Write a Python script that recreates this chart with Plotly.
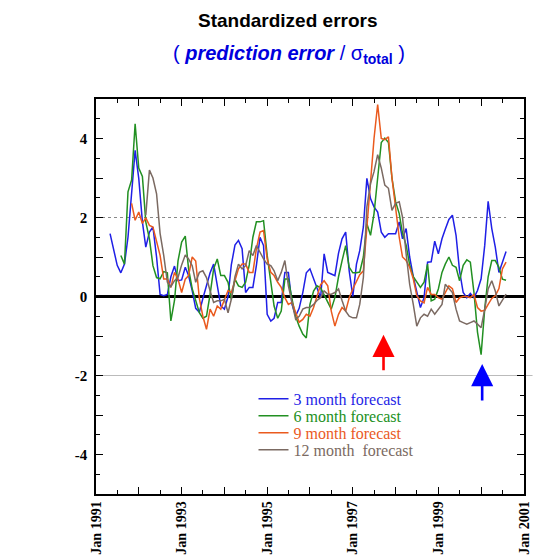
import pandas as pd
import plotly.graph_objects as go

# ---- data (monthly standardized errors) ----
start_3m = "1991-05-01"
err_3m = [1.59, 1.2, 0.79, 0.6, 0.82, 1.5, 2.6, 3.7, 2.99, 1.89,
          1.25, 1.63, 1.76, 1.0, 0.05, 0.02, 0.05, 0.5, 0.77, 0.4,
          0.42, 0.74, 0.53, 0.15, -0.3, -0.4, -0.05, 0.28, 0.6, 0.82,
          0.3, -0.24, -0.32, 0.0, 0.8, 1.3, 1.42, 1.21, 0.1, 0.23,
          0.23, 0.79, 1.5, 1.29, -0.45, -0.62, -0.55, -0.15, -0.15, 0.61,
          0.61, -0.2, -0.49, -0.3, 0.1, 0.6, 0.7, 0.45, 0.27, -0.03,
          1.08, 0.61, 0.57, 0.53, 1.1, 1.46, 1.63, 0.65, 0.0, 0.82,
          1.16, 1.76, 2.99, 2.48, 2.27, 2.14, 1.63, 1.5, 1.59, 1.59,
          1.59, 1.89, 1.46, 1.72, 1.0, 0.5, 0.1, -0.28, -0.03, 0.87,
          0.88, 1.4, 1.08, 1.46, 1.7, 1.95, 2.06, 1.55, 0.65, 0.1,
          -0.03, 0.08, -0.03, 0.15, 0.45, 1.3, 2.41, 1.72, 1.25, 0.61,
          0.87, 1.14]

start_6m = "1991-08-01"
err_6m = [1.04, 0.82, 2.65, 2.95, 4.37, 3.25, 3.04, 1.89, 1.46, 0.78,
          0.48, 0.45, 0.63, 0.6, -0.62, -0.1, 0.9, 1.38, 1.53, 0.7,
          0.2, -0.1, -0.41, -0.55, -0.5, 0.06, 0.7, 0.95, 0.53, 0.53,
          0.36, -0.07, 0.44, 0.27, 0.23, 0.36, 0.8, 1.5, 1.89, 1.89,
          1.92, 1.04, 0.3, -0.24, -0.55, -0.37, 0.44, 0.44, -0.07, -0.5,
          -0.75, -0.95, -1.05, -0.2, 0.14, 0.27, 0.22, 0.05, -0.11, -0.32,
          -0.03, 0.5, 0.9, 1.29, 0.74, 0.6, 0.6, 0.62, 1.0, 1.84,
          1.55, 2.1, 3.0, 3.9, 4.01, 3.9, 3.0, 2.4, 2.1, 1.6,
          1.3, 0.8, 0.5, 0.35, 0.23, 0.36, 0.82, -0.11, -0.07, 0.19,
          0.61, 0.82, 1.0, 0.79, 0.74, 0.4, 0.79, 0.93, 0.87, 0.1,
          -0.9, -1.47, -0.3, 0.5, 0.91, 0.91, 0.74, 0.44, 0.41]

start_9m = "1991-11-01"
err_9m = [2.36, 1.93, 2.14, 1.85, 1.99, 1.8, 1.76, 1.42, 1.04, 0.44,
          0.44, 0.23, 0.61, 0.44, 0.1, 0.44, 0.53, 1.0, 0.9, -0.05,
          -0.5, -0.83, -0.32, -0.5, -0.24, -0.32, -0.07, 0.15, 0.1, 0.4,
          0.7, 0.82, 0.82, 0.61, 0.61, 1.21, 1.63, 1.67, 0.95, 0.61,
          0.53, 0.36, 0.23, -0.03, -0.2, -0.15, -0.41, -0.65, -0.58, -0.45,
          -0.5, -0.28, 0.0, 0.3, 0.4, 0.27, -0.37, -0.75, -0.45, -0.28,
          -0.37, -0.03, 0.19, 0.4, 0.55, 0.65, 1.8, 3.0, 4.0, 4.86,
          4.0, 3.97, 4.04, 3.0, 2.2, 1.5, 1.0, 0.91, 0.74, 0.45,
          0.02, -0.11, -0.16, 0.23, 0.05, 0.05, -0.03, -0.07, 0.1, 0.27,
          0.2, -0.15, -0.03, 0.0, 0.0, -0.03, 0.05, -0.28, -0.37, -0.35,
          -0.2, -0.05, 0.02, 0.2, 0.7, 0.87]

start_12m = "1992-03-01"
err_12m = [2.06, 3.2, 3.0, 2.6, 1.6, 1.04, 0.36, 0.25, 0.4, 0.48,
           0.8, 1.05, 0.95, 0.78, 0.36, 0.61, 0.65, 0.48, 0.14, -0.15,
           -0.11, -0.11, -0.07, -0.41, -0.07, 0.5, 0.82, 0.7, 0.78, 1.16,
           1.04, 1.29, 1.12, 0.95, 0.82, 0.78, 0.65, 0.4, 0.61, 0.91,
           0.27, -0.2, -0.58, -0.5, -0.32, -0.28, -0.28, -0.2, -0.1, -0.03,
           0.14, 0.06, 0.06, 0.1, 0.19, -0.1, -0.37, -0.5, -0.54, -0.54,
           -0.2, 0.48, 2.27, 2.86, 3.16, 3.59, 3.25, 2.82, 2.74, 2.18,
           2.36, 2.4, 2.01, 1.08, 0.31, -0.2, -0.75, -0.54, -0.45, -0.5,
           -0.32, -0.45, -0.32, -0.2, 0.31, 0.2, 0.1, -0.32, -0.62, -0.66,
           -0.7, -0.66, -0.62, -0.7, -0.79, -0.32, 0.19, 0.4, 0.14, -0.24,
           -0.1, 0.06]

series_names = ["3 month forecast", "6 month forecast", "9 month forecast", "12 month  forecast"]
series_colors = ["#1f1fe6", "#229022", "#ea5a1e", "#7b6a62"]
series_starts = [start_3m, start_6m, start_9m, start_12m]
series_values = [err_3m, err_6m, err_9m, err_12m]

year_ticks = [f"{y}-01-01" for y in range(1991, 2002)]
year_labels = [f"Jan {y}" if (y - 1991) % 2 == 0 else "" for y in range(1991, 2002)]
y_ticks = [-4, -3, -2, -1, 0, 1, 2, 3, 4]
y_labels = ["-4", "", "-2", "", "0", "", "2", "", "4"]

red_arrow = ("1997-09-20", -0.97)
blue_arrow = ("2000-01-10", -1.71)

legend_rows_y = [0.241, 0.198, 0.155, 0.112]
legend_ids = ["legend", "legend2", "legend3", "legend4"]

fig = go.Figure()
for name, color, start, vals, lid in zip(series_names, series_colors, series_starts,
                                         series_values, legend_ids):
    dates = pd.date_range(start, periods=len(vals), freq="MS")
    fig.add_trace(go.Scatter(
        x=dates, y=vals, mode="lines",
        line=dict(color=color, width=1.5),
        name=f'<span style="color:{color}">{name}</span>',
        legend=lid,
    ))

# reference lines at +/-2
fig.add_shape(type="line", xref="x", yref="y", x0="1991-01-01", x1="2000-08-01", y0=2, y1=2,
              line=dict(color="#888888", width=1, dash="dot"), layer="below")
fig.add_shape(type="line", xref="paper", yref="y", x0=0, x1=1.02, y0=-2, y1=-2,
              line=dict(color="#bbbbbb", width=1), layer="below")

# arrows
fig.add_annotation(x=red_arrow[0], y=red_arrow[1], xref="x", yref="y", ax=0, ay=37,
                   showarrow=True, arrowhead=2, arrowsize=1.7, arrowwidth=2.6,
                   arrowcolor="#ff0000", text="")
fig.add_annotation(x=blue_arrow[0], y=blue_arrow[1], xref="x", yref="y", ax=0, ay=38,
                   showarrow=True, arrowhead=2, arrowsize=1.7, arrowwidth=2.6,
                   arrowcolor="#0000ff", text="")

# titles
fig.add_annotation(x=0.448, y=1.198, xref="paper", yref="paper", showarrow=False,
                   xanchor="center", yanchor="middle",
                   text="<b>Standardized errors</b>",
                   font=dict(family="Liberation Sans, Arial", size=19, color="black"))
fig.add_annotation(x=0.452, y=1.112, xref="paper", yref="paper", showarrow=False,
                   xanchor="center", yanchor="middle",
                   text="( <b><i>prediction error</i></b> / σ<sub><b>total</b></sub> )",
                   font=dict(family="Liberation Sans, Arial", size=20, color="#0000dd"))

legend_common = dict(xanchor="left", yanchor="middle", bgcolor="rgba(0,0,0,0)", borderwidth=0,
                     font=dict(family="Liberation Serif, Times New Roman", size=16),
                     itemwidth=30)

layout_legends = {lid: dict(x=0.368, y=ly, **legend_common)
                  for lid, ly in zip(legend_ids, legend_rows_y)}

fig.update_layout(
    width=541, height=564,
    margin=dict(l=96, r=9, t=99, b=65),
    paper_bgcolor="white", plot_bgcolor="white",
    showlegend=True,
    xaxis=dict(type="date", range=["1991-01-01", "2001-01-01"],
               tickmode="array", tickvals=year_ticks, ticktext=year_labels,
               ticks="inside", ticklen=7, tickwidth=1, tickcolor="black",
               tickangle=-90,
               tickfont=dict(family="Liberation Serif, Times New Roman", size=14, color="black", weight="bold"),
               minor=dict(dtick="M6", ticks="inside", ticklen=4, tickcolor="black"),
               showgrid=False, showline=True, linecolor="black", linewidth=1.5, mirror="ticks"),
    yaxis=dict(range=[-5, 5], tickmode="array", tickvals=y_ticks, ticktext=y_labels,
               ticks="inside", ticklen=7, tickwidth=1, tickcolor="black",
               tickfont=dict(family="Liberation Serif, Times New Roman", size=15, color="black", weight="bold"),
               ticklabelstandoff=4,
               minor=dict(dtick=0.5, ticks="inside", ticklen=4, tickcolor="black"),
               showgrid=False, zeroline=True, zerolinecolor="black", zerolinewidth=3,
               showline=True, linecolor="black", linewidth=1.5, mirror="ticks"),
    **layout_legends,
)

page_fix = (
    "document.documentElement.style.margin='0';"
    "document.body.style.margin='0';"
    "document.body.style.overflow='hidden';"
)

fig.write_html("out.html", config={"displayModeBar": False}, post_script=page_fix)
